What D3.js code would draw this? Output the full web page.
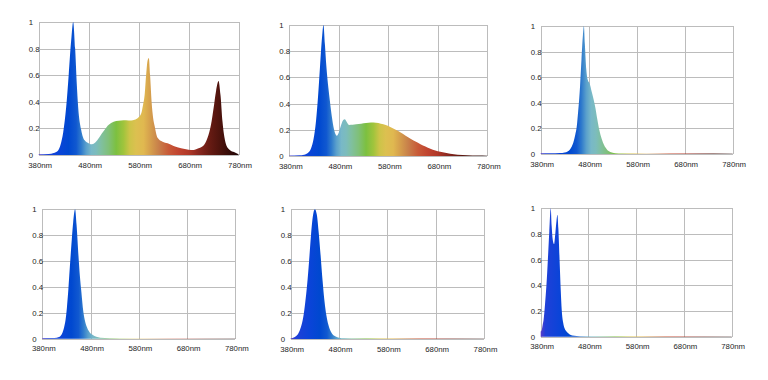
<!DOCTYPE html>
<html lang="en">
<head>
<meta charset="UTF-8">
<title>LED spectra</title>
<style>
    body { margin: 0; background: #fff; }
    svg { display: block; }
    .grid line { stroke: #bcbcbc; stroke-width: 1px; shape-rendering: crispEdges; }
    .grid .domain { display: none; }
    .grid text { font-family: "Liberation Sans", Arial, sans-serif; font-size: 7.8px; fill: #1e1e1e; }
</style>
</head>
<body>
<script src="https://d3js.org/d3.v7.min.js"></script>
<script>
// axis ticks
const nmTicks = [380, 480, 580, 680, 780];
const nmTickLabels = ['380nm', '480nm', '580nm', '680nm', '780nm'];
const yTicks = [0, 0.2, 0.4, 0.6, 0.8, 1];

// relative intensity, [wavelength nm, value]
const spectrumFull = [[380,0.005],[400,0.008],[410,0.015],[418,0.03],[424,0.08],[429,0.17],[435,0.36],[440,0.6],[445,0.86],[449,1.0],[453,0.8],[456,0.55],[459,0.36],[465,0.19],[472,0.11],[479,0.09],[486,0.08],[492,0.09],[499,0.12],[506,0.16],[512,0.19],[518,0.22],[525,0.24],[535,0.255],[545,0.26],[555,0.262],[565,0.26],[572,0.265],[579,0.28],[585,0.31],[589,0.38],[592,0.45],[595,0.6],[598,0.71],[600.5,0.73],[603,0.6],[606,0.4],[609,0.28],[612,0.22],[618,0.13],[628,0.1],[638,0.088],[650,0.068],[665,0.05],[680,0.04],[690,0.038],[700,0.05],[706,0.06],[712,0.08],[718,0.13],[725,0.23],[730,0.35],[735,0.48],[740,0.556],[744,0.45],[748,0.25],[752,0.13],[756,0.07],[762,0.04],[772,0.02],[780,0.005]];
const spectrumWhite = [[380,0.003],[400,0.005],[410,0.01],[418,0.025],[424,0.06],[429,0.13],[434,0.27],[438,0.45],[442,0.68],[446,0.9],[449,1.0],[452,0.85],[455,0.68],[459,0.52],[462,0.42],[466,0.3],[470,0.21],[473,0.17],[476,0.155],[480,0.18],[485,0.24],[489,0.275],[492,0.28],[496,0.26],[501,0.237],[508,0.238],[515,0.242],[525,0.247],[535,0.252],[545,0.255],[555,0.253],[565,0.247],[575,0.237],[585,0.22],[595,0.2],[605,0.18],[615,0.155],[625,0.132],[635,0.11],[645,0.09],[655,0.072],[665,0.055],[675,0.042],[685,0.032],[695,0.024],[705,0.017],[720,0.01],[740,0.006],[760,0.003],[780,0.002]];
const spectrumCyan = [[380,0.005],[400,0.005],[420,0.007],[430,0.012],[436,0.02],[441,0.035],[445,0.06],[448,0.09],[452,0.15],[455,0.21],[458,0.33],[462,0.53],[465,0.74],[468,0.93],[470,1.0],[472,0.86],[475,0.66],[478,0.58],[482,0.55],[486,0.49],[490,0.43],[494,0.36],[498,0.27],[502,0.19],[507,0.12],[512,0.07],[518,0.035],[525,0.015],[535,0.006],[550,0.003],[600,0.002],[700,0.003],[780,0.002]];
const spectrumBlue = [[380,0.005],[400,0.005],[410,0.008],[416,0.015],[421,0.04],[425,0.085],[428,0.14],[431,0.24],[434,0.38],[437,0.55],[441,0.76],[444,0.9],[448,1.0],[451,0.88],[455,0.64],[458,0.48],[461,0.36],[465,0.21],[469,0.13],[473,0.085],[478,0.05],[484,0.03],[492,0.015],[500,0.008],[520,0.004],[560,0.002],[780,0.002]];
const spectrumRoyal = [[380,0.005],[385,0.01],[390,0.02],[396,0.045],[401,0.09],[406,0.17],[410,0.28],[414,0.42],[418,0.6],[422,0.8],[426,0.95],[430,1.0],[434,0.96],[438,0.82],[442,0.64],[446,0.45],[450,0.29],[454,0.18],[458,0.11],[462,0.065],[467,0.035],[473,0.02],[480,0.01],[490,0.005],[520,0.003],[780,0.002]];
const spectrumViolet = [[380,0.04],[382,0.05],[384,0.09],[386,0.13],[389,0.25],[392,0.4],[395,0.6],[398,0.82],[401,1.0],[403,0.86],[405,0.76],[408,0.72],[410,0.78],[413,0.9],[415,0.95],[417,0.84],[420,0.55],[422,0.36],[424,0.21],[427,0.11],[430,0.065],[434,0.04],[440,0.02],[446,0.01],[455,0.006],[470,0.004],[500,0.003],[780,0.002]];

// colour of the fill along the wavelength axis
const hueNm = [380, 390, 420, 440, 455, 465, 475, 485, 495, 505, 520, 535, 550, 562, 575, 590, 605, 620, 640, 660, 680, 700, 720, 745, 780];
const hueColor = ['#5a3cc8', '#2040d8', '#0a44d8', '#0048d0', '#1058d0', '#2f7acc', '#5aa0cc', '#78b8c8', '#7cbcbc', '#80c0a0', '#80c078', '#7cc040', '#a0c43c', '#ccc448', '#dcc050', '#e0b850', '#d49c4c', '#c8804a', '#c85a38', '#c04430', '#b03828', '#8a2820', '#6a1c14', '#4a120c', '#1e0404'];

// plot frames (left, top, right, bottom) in px
const panels = [
    { data: spectrumFull,   left: 38.7,  top: 22,    right: 238.5, bottom: 155 },
    { data: spectrumWhite,  left: 289.3, top: 25,    right: 487.3, bottom: 156 },
    { data: spectrumCyan,   left: 540.7, top: 26,    right: 732.7, bottom: 154 },
    { data: spectrumBlue,   left: 42.3,  top: 209.3, right: 235.3, bottom: 338.7 },
    { data: spectrumRoyal,  left: 290.7, top: 209.3, right: 484,   bottom: 339 },
    { data: spectrumViolet, left: 540.7, top: 208.3, right: 731.7, bottom: 336.7 }
];

const svg = d3.select('body').append('svg')
    .attr('width', 768)
    .attr('height', 380);

const defs = svg.append('defs');

panels.forEach((p, i) => {
    const x = d3.scaleLinear().domain([380, 780]).range([p.left, p.right]);
    const y = d3.scaleLinear().domain([0, 1]).range([p.bottom, p.top]);
    const w = p.right - p.left;
    const h = p.bottom - p.top;

    // spectrum gradient spans this panel's x range
    const grad = defs.append('linearGradient')
        .attr('id', 'spec' + i)
        .attr('gradientUnits', 'userSpaceOnUse')
        .attr('x1', x(380)).attr('x2', x(780))
        .attr('y1', 0).attr('y2', 0);
    grad.selectAll('stop')
        .data(hueNm)
        .enter().append('stop')
        .attr('offset', d => (d - 380) / 400)
        .attr('stop-color', (d, j) => hueColor[j]);

    // vertical grid + wavelength labels
    const xAxis = svg.append('g')
        .attr('class', 'grid')
        .attr('transform', `translate(0,${p.bottom})`)
        .call(d3.axisBottom(x)
            .tickValues(nmTicks)
            .tickSize(-h)
            .tickPadding(7)
            .tickFormat((d, j) => nmTickLabels[j]));
    xAxis.selectAll('text').attr('dx', 1);

    // horizontal grid + value labels (left aligned)
    const yAxis = svg.append('g')
        .attr('class', 'grid')
        .attr('transform', `translate(${p.left},0)`)
        .call(d3.axisLeft(y)
            .tickValues(yTicks)
            .tickSize(-w)
            .tickFormat(d3.format('~g')));
    yAxis.selectAll('text')
        .attr('text-anchor', 'start')
        .attr('x', -10);

    const area = d3.area()
        .x(d => x(d[0]))
        .y0(y(0))
        .y1(d => y(d[1]))
        .curve(d3.curveMonotoneX);

    svg.append('path')
        .datum(p.data)
        .attr('d', area)
        .attr('fill', `url(#spec${i})`);
});
</script>
</body>
</html>
